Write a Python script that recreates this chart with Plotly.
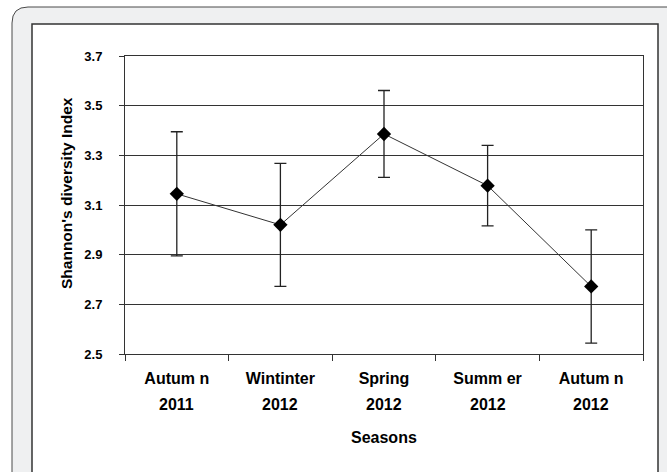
import plotly.graph_objects as go

seasons = ["Autum n", "Wintinter", "Spring", "Summ er", "Autum n"]
years = ["2011", "2012", "2012", "2012", "2012"]
shannon_index = [3.145, 3.02, 3.386, 3.178, 2.772]
std_error = [0.25, 0.248, 0.175, 0.162, 0.228]
y_ticks = [2.5, 2.7, 2.9, 3.1, 3.3, 3.5, 3.7]

categories = [f"{s} {y}" for s, y in zip(seasons, years)]

W, H = 667, 472
L, R, T, B = 125, 24, 56, 118
PW, PH = W - L - R, H - T - B

def px(x):
    return (x - L) / PW

def py(y):
    return (H - B - y) / PH

FONT = "Liberation Sans, Arial"

fig = go.Figure()
fig.add_trace(go.Scatter(
    x=categories, y=shannon_index,
    mode="lines+markers",
    line=dict(color="#333333", width=1),
    marker=dict(symbol="diamond", size=11, color="black"),
    error_y=dict(type="data", array=std_error, visible=True,
                 color="#222222", thickness=1.3, width=6),
    showlegend=False,
))

# decorative frame
r = 16
ol, ot, orr, ob = 12, 7, 700, 520
path = (f"M {px(ol)},{py(ob)} L {px(ol)},{py(ot + r)} "
        f"Q {px(ol)},{py(ot)} {px(ol + r)},{py(ot)} "
        f"L {px(orr)},{py(ot)} L {px(orr)},{py(ob)} Z")
shapes = [
    dict(type="path", xref="paper", yref="paper", path=path,
         fillcolor="#eff0f1", line=dict(color="#4a4a4a", width=1), layer="below"),
    dict(type="rect", xref="paper", yref="paper",
         x0=px(32), x1=px(658), y0=py(24), y1=py(520),
         fillcolor="white", line=dict(color="#333333", width=1.5), layer="below"),
]

annotations = [
    dict(text="Shannon's diversity Index", textangle=-90,
         xref="paper", yref="paper", x=px(67), y=py(193),
         xanchor="center", yanchor="middle", showarrow=False,
         font=dict(family=FONT, size=15.5, weight="bold", color="black")),
    dict(text="Seasons",
         xref="paper", yref="paper", x=0.5, y=py(437),
         xanchor="center", yanchor="middle", showarrow=False,
         font=dict(family=FONT, size=16, weight="bold", color="black")),
]
for c, yr in zip(categories, years):
    annotations.append(dict(
        text=yr, xref="x", yref="paper", x=c, y=py(404),
        xanchor="center", yanchor="middle", showarrow=False,
        font=dict(family=FONT, size=16, weight="bold", color="black")))

fig.update_layout(
    width=W, height=H,
    margin=dict(l=L, r=R, t=T, b=B),
    paper_bgcolor="white", plot_bgcolor="white",
    shapes=shapes,
    font=dict(family=FONT, color="black"),
    xaxis=dict(
        type="category", range=[-0.5, 4.5],
        tickmode="array", tickvals=categories, ticktext=seasons,
        tickson="boundaries", ticks="outside", ticklen=6, tickcolor="#333333",
        ticklabelstandoff=10,
        showline=True, linecolor="#333333", linewidth=1, mirror=True,
        showgrid=False,
        tickfont=dict(family=FONT, size=16, weight="bold", color="black"),
    ),
    yaxis=dict(
        range=[2.5, 3.7], tickmode="array", tickvals=y_ticks,
        ticktext=[f"{v:.1f}" for v in y_ticks],
        ticks="outside", ticklen=5, tickcolor="#333333",
        ticklabelstandoff=14,
        showline=True, linecolor="#333333", linewidth=1, mirror=True,
        showgrid=True, gridcolor="#333333", gridwidth=1,
        zeroline=False,
        tickfont=dict(family=FONT, size=13, weight="bold", color="black"),
    ),
    annotations=annotations,
)

fig.write_html("out.html", config={"displayModeBar": False},
               post_script="document.body.style.margin='0';")
